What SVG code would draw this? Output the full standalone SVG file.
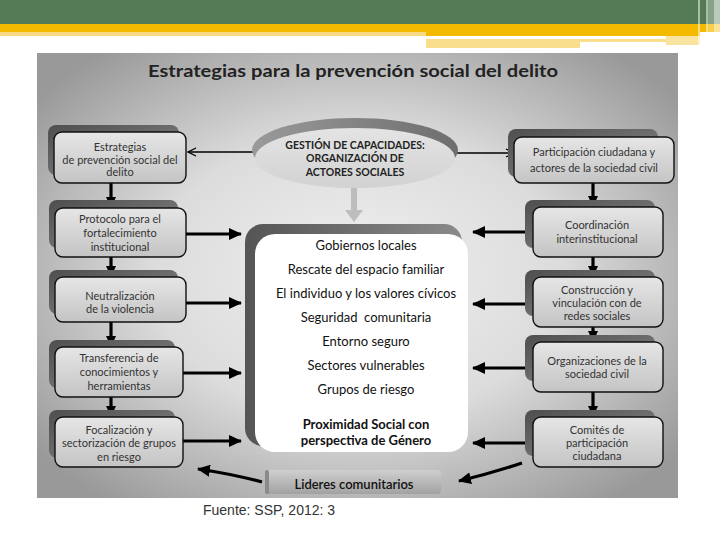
<svg xmlns="http://www.w3.org/2000/svg" width="720" height="540" viewBox="0 0 720 540">
<defs>
<radialGradient id="bg" cx="50%" cy="50%" r="64%">
<stop offset="0" stop-color="#f0f0f0"/>
<stop offset="0.5" stop-color="#dcdcdc"/>
<stop offset="1" stop-color="#999"/>
</radialGradient>
<linearGradient id="boxg" x1="0" y1="0" x2="0" y2="1">
<stop offset="0" stop-color="#e6e6e6"/>
<stop offset="1" stop-color="#c4c4c4"/>
</linearGradient>
<linearGradient id="shg" x1="0" y1="0" x2="1" y2="1">
<stop offset="0" stop-color="#4e4e4e"/>
<stop offset="1" stop-color="#8a8a8a"/>
</linearGradient>
<linearGradient id="cshg" x1="0" y1="0" x2="1" y2="0">
<stop offset="0" stop-color="#555"/>
<stop offset="1" stop-color="#8a8a8a"/>
</linearGradient>
<linearGradient id="ellg" x1="0" y1="0" x2="0" y2="1">
<stop offset="0" stop-color="#e4e4e4"/>
<stop offset="1" stop-color="#d2d2d2"/>
</linearGradient>
<linearGradient id="ellsh" x1="0" y1="0" x2="1" y2="0">
<stop offset="0" stop-color="#9a9a9a"/>
<stop offset="1" stop-color="#6e6e6e"/>
</linearGradient>
<linearGradient id="lidg" x1="0" y1="0" x2="0" y2="1">
<stop offset="0" stop-color="#cfcfcf"/>
<stop offset="1" stop-color="#a2a2a2"/>
</linearGradient>
<marker id="ah" markerUnits="userSpaceOnUse" markerWidth="13" markerHeight="12" refX="12" refY="6" orient="auto">
<path d="M0,0 L13,6 L0,12 z" fill="#000"/>
</marker>
<marker id="ahs" markerUnits="userSpaceOnUse" markerWidth="11" markerHeight="10" refX="10" refY="5" orient="auto">
<path d="M0,0 L11,5 L0,10 z" fill="#000"/>
</marker>
<marker id="open" markerUnits="userSpaceOnUse" markerWidth="10" markerHeight="10" refX="9" refY="5" orient="auto">
<path d="M1,1 L9,5 L1,9" fill="none" stroke="#000" stroke-width="1.3"/>
</marker>
<marker id="gah" markerUnits="userSpaceOnUse" markerWidth="12" markerHeight="18" refX="1" refY="9" orient="auto">
<path d="M0,0 L12,9 L0,18 z" fill="#bdbdbd"/>
</marker>
</defs>
<style>
.box{fill:url(#boxg);stroke:#111;stroke-width:1.4}
.sh{fill:url(#shg)}
.t{font-family:Lato,"Liberation Sans",sans-serif;font-size:11px;fill:#333;text-anchor:middle}
.e{font-family:Lato,"Liberation Sans",sans-serif;font-size:10.5px;fill:#222;text-anchor:middle;font-weight:bold}
.c{font-family:Lato,"Liberation Sans",sans-serif;font-size:13px;fill:#111;text-anchor:middle}
.b{font-weight:bold}
.thick{stroke:#000;stroke-width:3.2;fill:none}
.thin{stroke:#000;stroke-width:1.3;fill:none}
</style>
<rect width="720" height="540" fill="#fff"/>
<g id="header">
<rect x="0" y="0" width="720" height="24" fill="#547b53"/>
<rect x="0" y="24" width="720" height="8" fill="#f4ba00"/>
<rect x="0" y="32" width="426" height="4" fill="#f8da84"/>
<rect x="426" y="32" width="274" height="4" fill="#f4ba00"/>
<rect x="426" y="39" width="154" height="9" fill="#f9de8e"/>
<rect x="580" y="39" width="86" height="3" fill="#f9de8e"/>
<rect x="666" y="36" width="34" height="9" fill="#f9e3a0"/>
<rect x="698" y="0" width="2" height="48" fill="#fff" opacity="0.5"/>
<rect x="706" y="0" width="2" height="48" fill="#fff" opacity="0.5"/>
<rect x="708" y="0" width="6" height="48" fill="#fff" opacity="0.3"/>
<rect x="714" y="0" width="6" height="48" fill="#fff" opacity="0.6"/>
</g>
<rect id="panel" x="37" y="53" width="641" height="445" fill="url(#bg)"/>
<text id="title" x="148" y="77" font-family="Lato,'Liberation Sans',sans-serif" font-size="17" font-weight="bold" fill="#222" textLength="410" lengthAdjust="spacingAndGlyphs">Estrategias para la prevención social del delito</text>

<g id="connectors">
<line class="thin" x1="253" y1="152" x2="188" y2="152" marker-end="url(#open)"/>
<line class="thin" x1="452" y1="153" x2="514" y2="153" marker-end="url(#open)"/>
<line x1="354" y1="188" x2="354" y2="211" stroke="#bdbdbd" stroke-width="6" marker-end="url(#gah)"/>
<line class="thick" x1="111" y1="183" x2="111" y2="207" marker-end="url(#ahs)"/>
<line class="thick" x1="111" y1="257" x2="111" y2="276" marker-end="url(#ahs)"/>
<line class="thick" x1="111" y1="322" x2="111" y2="346" marker-end="url(#ahs)"/>
<line class="thick" x1="111" y1="397" x2="111" y2="416" marker-end="url(#ahs)"/>
<line class="thick" x1="593" y1="183" x2="593" y2="206" marker-end="url(#ahs)"/>
<line class="thick" x1="593" y1="257" x2="593" y2="276" marker-end="url(#ahs)"/>
<line class="thick" x1="593" y1="327" x2="593" y2="341" marker-end="url(#ahs)"/>
<line class="thick" x1="593" y1="392" x2="593" y2="416" marker-end="url(#ahs)"/>
<line class="thick" x1="186" y1="234" x2="241" y2="234" marker-end="url(#ah)"/>
<line class="thick" x1="186" y1="303" x2="241" y2="303" marker-end="url(#ah)"/>
<line class="thick" x1="183" y1="373" x2="241" y2="373" marker-end="url(#ah)"/>
<line class="thick" x1="183" y1="441" x2="241" y2="441" marker-end="url(#ah)"/>
<line class="thick" x1="533" y1="232" x2="473" y2="232" marker-end="url(#ah)"/>
<line class="thick" x1="533" y1="304" x2="473" y2="304" marker-end="url(#ah)"/>
<line class="thick" x1="533" y1="368" x2="473" y2="368" marker-end="url(#ah)"/>
<line class="thick" x1="533" y1="443" x2="473" y2="443" marker-end="url(#ah)"/>
<path class="thick" d="M262,482 Q232,474 198,469" stroke-width="2.6" marker-end="url(#ah)"/>
<path class="thick" d="M522,463 Q492,473 459,481" stroke-width="2.6" marker-end="url(#ah)"/>
</g>

<g id="gestion">
<ellipse cx="355" cy="150" rx="103" ry="32" fill="url(#ellsh)"/>
<ellipse cx="355" cy="158" rx="100" ry="30" fill="url(#ellg)"/>
<text class="e" x="355" y="149">GESTIÓN DE CAPACIDADES:</text>
<text class="e" x="355" y="162">ORGANIZACIÓN DE</text>
<text class="e" x="355" y="176">ACTORES SOCIALES</text>
</g>

<g id="central">
<rect x="245" y="224" width="217" height="222" rx="18" fill="url(#cshg)"/>
<rect x="255" y="234" width="213" height="218" rx="20" fill="#fff"/>
<text class="c" x="366" y="250">Gobiernos locales</text>
<text class="c" x="366" y="274">Rescate del espacio familiar</text>
<text class="c" x="366" y="298">El individuo y los valores cívicos</text>
<text class="c" x="366" y="322" xml:space="preserve">Seguridad  comunitaria</text>
<text class="c" x="366" y="346">Entorno seguro</text>
<text class="c" x="366" y="370">Sectores vulnerables</text>
<text class="c" x="366" y="394">Grupos de riesgo</text>
<text class="c b" x="366" y="429">Proximidad Social con</text>
<text class="c b" x="366" y="445">perspectiva de Género</text>
</g>

<g id="lideres">
<rect x="265" y="470" width="176" height="24" rx="4" fill="url(#lidg)"/>
<rect x="265" y="470" width="4" height="24" rx="2" fill="#8a8a8a"/>
<text class="c" x="354" y="489" style="font-weight:600">Lideres comunitarios</text>
</g>

<g id="L1">
<rect class="sh" x="48" y="125" width="131" height="50" rx="8"/>
<rect class="box" x="54" y="132" width="132" height="51" rx="8"/>
<text class="t" x="120" y="151">Estrategias</text>
<text class="t" x="120" y="164">de prevención social del</text>
<text class="t" x="120" y="176">delito</text>
</g>
<g id="L2">
<rect class="sh" x="49" y="200" width="129" height="48" rx="8"/>
<rect class="box" x="55" y="208" width="131" height="49" rx="8"/>
<text class="t" x="120" y="223">Protocolo para el</text>
<text class="t" x="120" y="237">fortalecimiento</text>
<text class="t" x="120" y="251">institucional</text>
</g>
<g id="L3">
<rect class="sh" x="49" y="270" width="129" height="44" rx="8"/>
<rect class="box" x="55" y="277" width="131" height="45" rx="8"/>
<text class="t" x="120" y="300">Neutralización</text>
<text class="t" x="120" y="313">de la violencia</text>
</g>
<g id="L4">
<rect class="sh" x="49" y="340" width="126" height="48" rx="8"/>
<rect class="box" x="55" y="347" width="128" height="50" rx="8"/>
<text class="t" x="119" y="362">Transferencia de</text>
<text class="t" x="119" y="376">conocimientos y</text>
<text class="t" x="119" y="390">herramientas</text>
</g>
<g id="L5">
<rect class="sh" x="49" y="410" width="126" height="48" rx="8"/>
<rect class="box" x="55" y="417" width="128" height="50" rx="8"/>
<text class="t" x="119" y="434">Focalización y</text>
<text class="t" x="119" y="447">sectorización de grupos</text>
<text class="t" x="119" y="461">en riesgo</text>
</g>

<g id="R1">
<rect class="sh" x="508" y="129" width="150" height="48" rx="8"/>
<rect class="box" x="514" y="137" width="160" height="46" rx="8"/>
<text class="t" x="594" y="156">Participación ciudadana y</text>
<text class="t" x="594" y="172">actores de la sociedad civil</text>
</g>
<g id="R2">
<rect class="sh" x="525" y="200" width="130" height="48" rx="8"/>
<rect class="box" x="533" y="207" width="130" height="50" rx="8"/>
<text class="t" x="597" y="229">Coordinación</text>
<text class="t" x="597" y="243">interinstitucional</text>
</g>
<g id="R3">
<rect class="sh" x="525" y="270" width="130" height="46" rx="8"/>
<rect class="box" x="533" y="277" width="130" height="50" rx="8"/>
<text class="t" x="597" y="294">Construcción y</text>
<text class="t" x="597" y="307">vinculación con de</text>
<text class="t" x="597" y="320">redes sociales</text>
</g>
<g id="R4">
<rect class="sh" x="525" y="335" width="130" height="46" rx="8"/>
<rect class="box" x="533" y="342" width="130" height="50" rx="8"/>
<text class="t" x="597" y="365">Organizaciones de la</text>
<text class="t" x="597" y="378">sociedad civil</text>
</g>
<g id="R5">
<rect class="sh" x="525" y="410" width="130" height="46" rx="8"/>
<rect class="box" x="533" y="417" width="130" height="50" rx="8"/>
<text class="t" x="597" y="434">Comités de</text>
<text class="t" x="597" y="447">participación</text>
<text class="t" x="597" y="460">ciudadana</text>
</g>

<text id="fuente" x="203" y="515" font-family="'Liberation Sans',Arial,sans-serif" font-size="14" fill="#333">Fuente: SSP, 2012: 3</text>
</svg>
